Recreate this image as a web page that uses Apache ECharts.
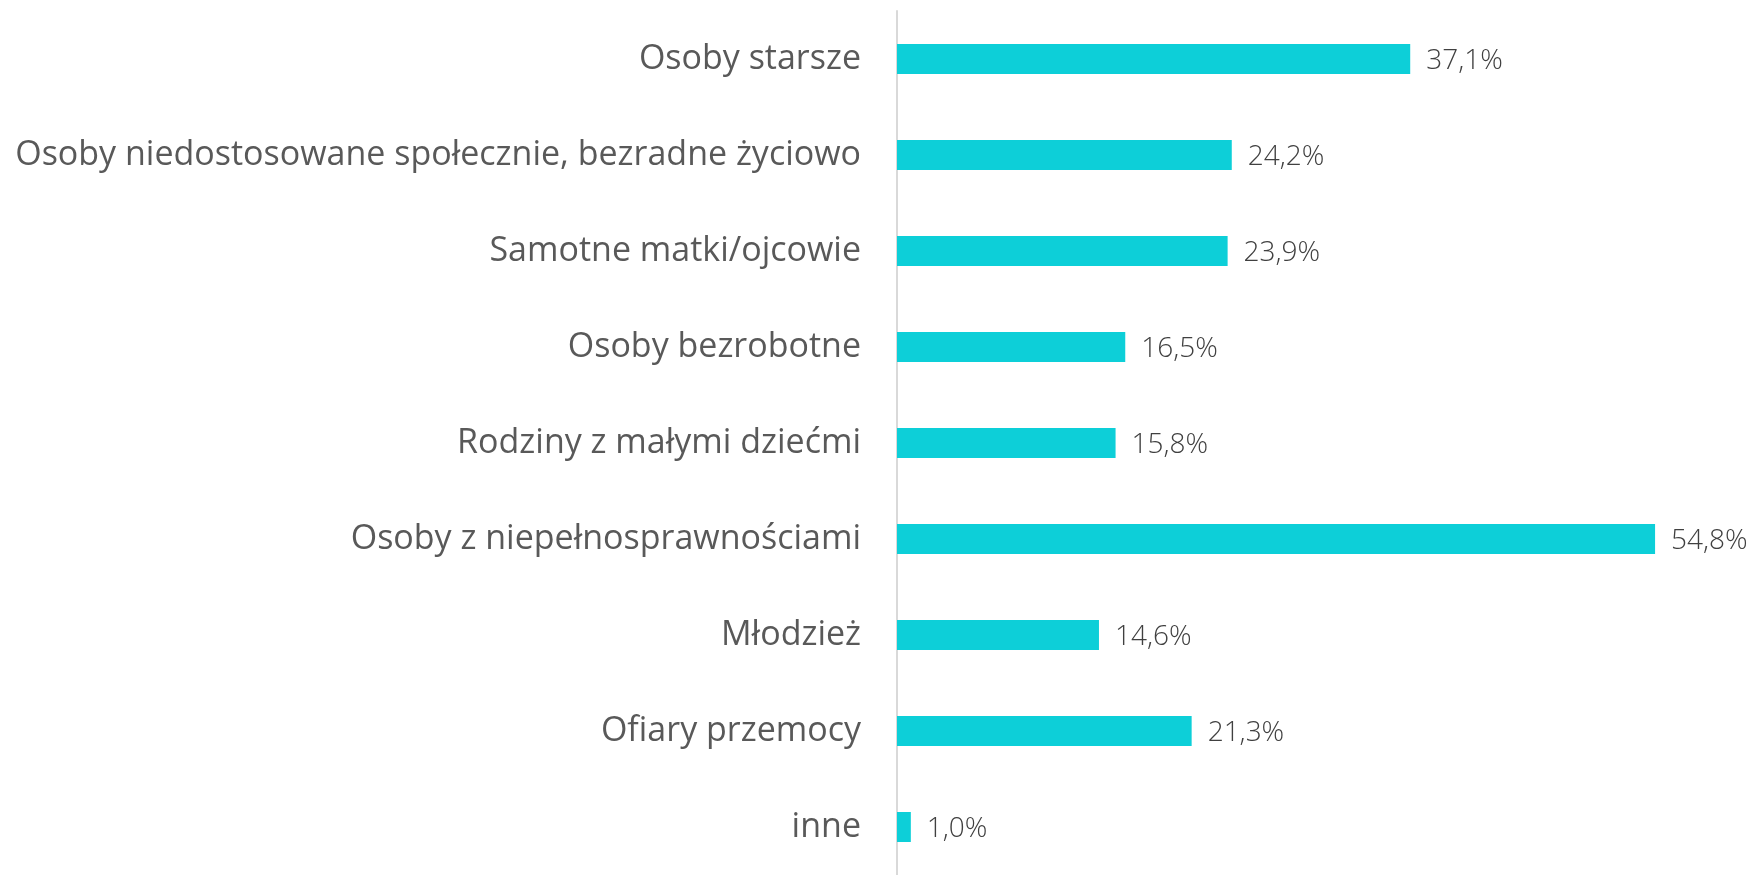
<!DOCTYPE html>
<html>
<head>
<meta charset="utf-8">
<script src="https://cdn.jsdelivr.net/npm/echarts@6/dist/echarts.min.js"></script>
<style>
  html, body { margin: 0; padding: 0; background: #fff; }
  #main { width: 1755px; height: 875px; }
</style>
</head>
<body>
<div id="main"></div>
<script>
// kategorie (od góry do dołu)
var categories = [
  'Osoby starsze',
  'Osoby niedostosowane społecznie, bezradne życiowo',
  'Samotne matki/ojcowie',
  'Osoby bezrobotne',
  'Rodziny z małymi dziećmi',
  'Osoby z niepełnosprawnościami',
  'Młodzież',
  'Ofiary przemocy',
  'inne'
];
// udział w %
var values = [37.1, 24.2, 23.9, 16.5, 15.8, 54.8, 14.6, 21.3, 1.0];

var myChart = echarts.init(document.getElementById('main'));

myChart.setOption({
  animation: false,
  grid: {
    left: 897,
    right: 28,
    top: 11,
    bottom: -3
  },
  xAxis: {
    type: 'value',
    min: 0,
    max: 60,
    show: false
  },
  yAxis: {
    type: 'category',
    inverse: true,
    data: categories,
    axisLine: {
      show: true,
      lineStyle: { color: '#d9d9d9', width: 2 }
    },
    axisTick: { show: false },
    splitLine: { show: false },
    axisLabel: {
      margin: 36,
      color: '#595959',
      fontSize: 34,
      fontFamily: 'Open Sans'
    }
  },
  series: [
    {
      type: 'bar',
      data: values,
      barWidth: 30,
      itemStyle: { color: '#0dcfd8' },
      label: {
        show: true,
        position: 'right',
        distance: 16,
        color: '#404040',
        fontSize: 28,
        fontWeight: 300,
        fontFamily: 'Open Sans',
        offset: [0, 2],
        formatter: function (p) {
          return p.value.toFixed(1).replace('.', ',') + '%';
        }
      }
    }
  ]
});
</script>
</body>
</html>
